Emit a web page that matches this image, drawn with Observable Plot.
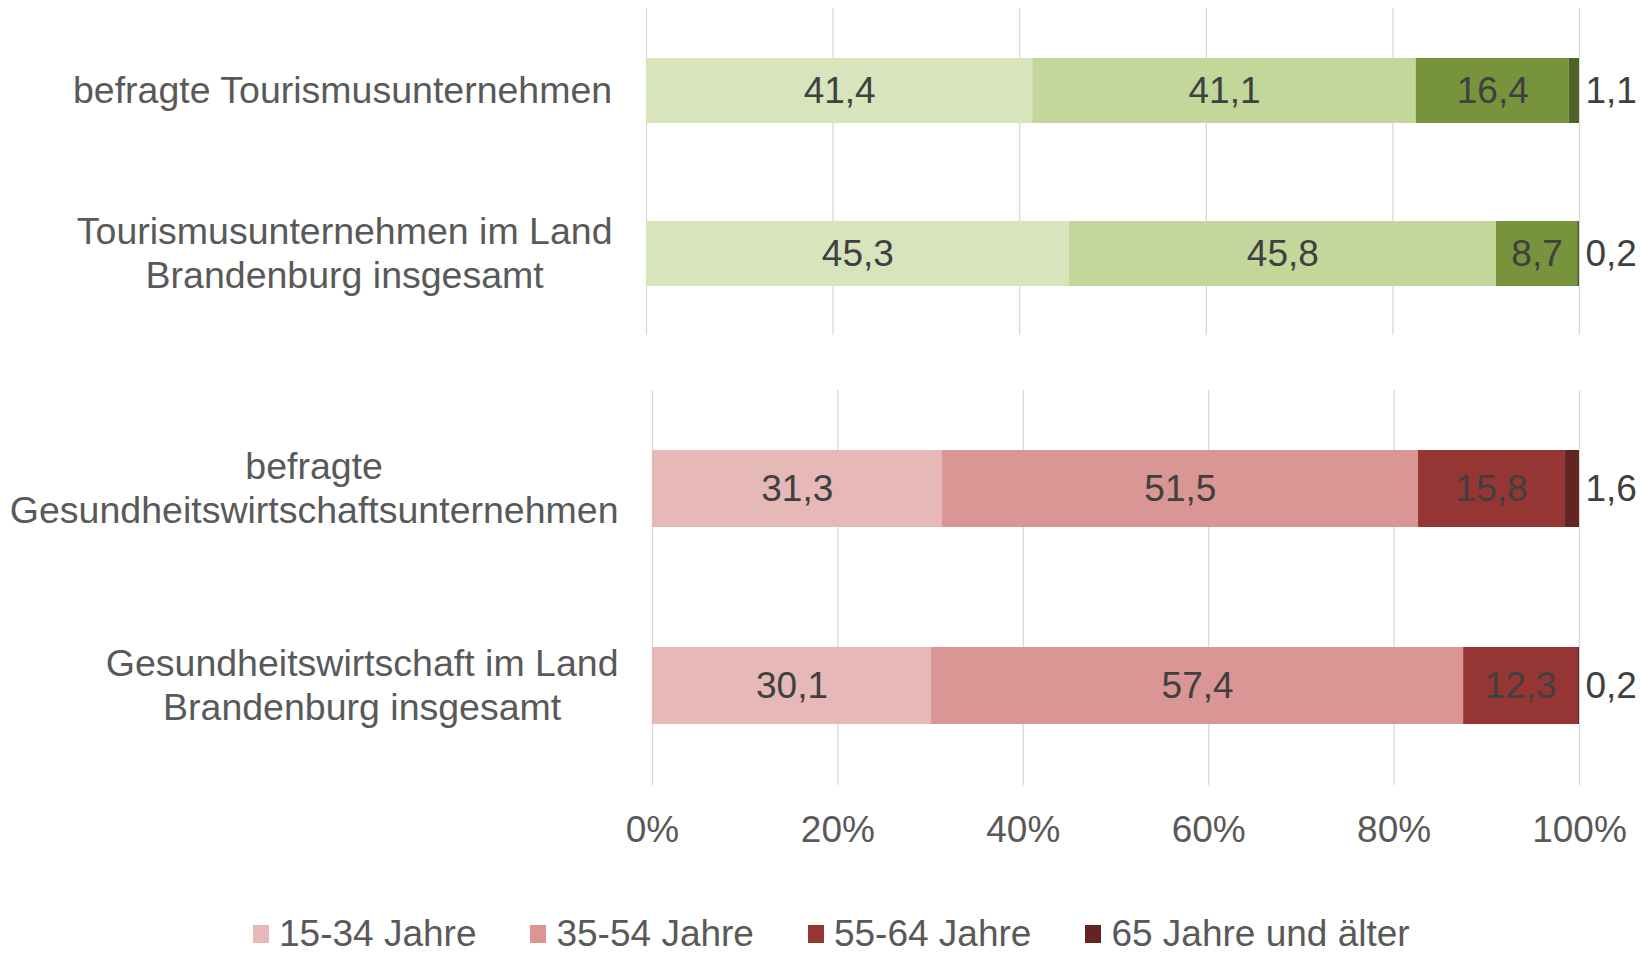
<!DOCTYPE html>
<html>
<head>
<meta charset="utf-8">
<script src="https://cdn.jsdelivr.net/npm/d3@7"></script>
<script src="https://cdn.jsdelivr.net/npm/@observablehq/plot@0.6"></script>
<style>
  body { margin: 0; background: #fff; font-family: "Liberation Sans", Arial, sans-serif; }
  #wrap { position: relative; width: 1651px; height: 953px; overflow: hidden; background: #fff; }
  #top { position: absolute; left: 0; top: 0; }
  #bottom { position: absolute; left: 0; top: 380px; }
  #legend { position: absolute; left: 253px; top: 915px; display: flex; gap: 54px; font-size: 37px; line-height: 37px; color: #595959; white-space: nowrap; }
  #legend .item { display: flex; align-items: center; gap: 10px; }
  #legend .sw { display: inline-block; width: 16px; height: 18px; }
</style>
</head>
<body>
<div id="wrap">
  <div id="top"></div>
  <div id="bottom"></div>
  <div id="legend"></div>
</div>
<script>
// ---- data ----
const ageGroups = ["15-34 Jahre", "35-54 Jahre", "55-64 Jahre", "65 Jahre und älter"];

const tourismCategories = ["befragte Tourismusunternehmen", "Tourismusunternehmen im Land\nBrandenburg insgesamt"];
const tourismValues = [
  [41.4, 41.1, 16.4, 1.1],
  [45.3, 45.8, 8.7, 0.2]
];

const healthCategories = ["befragte\nGesundheitswirtschaftsunternehmen", "Gesundheitswirtschaft im Land\nBrandenburg insgesamt"];
const healthValues = [
  [31.3, 51.5, 15.8, 1.6],
  [30.1, 57.4, 12.3, 0.2]
];

const greenColors = ["#d8e4bc", "#c4d79b", "#77933c", "#4f6228"];
const redColors = ["#e6b8b7", "#da9694", "#963634", "#632523"];

const tickValues = [0, 20, 40, 60, 80, 100];

// ---- helpers ----
const FONT = '"Liberation Sans", Arial, sans-serif';
const FS = 37;
const CAT_FS = 37.5;
const canvas = document.createElement("canvas");
const ctx = canvas.getContext("2d");
ctx.font = `${CAT_FS}px "Liberation Sans"`;
const measure = s => Math.max(...s.split("\n").map(l => ctx.measureText(l).width));
const fmt = v => v.toFixed(1).replace(".", ",");
const last = ageGroups[ageGroups.length - 1];

function panel({categories, values, colors, marginLeft, marginTop, marginBottom, height, paddingInner, paddingOuter, showAxis, labelGap}) {
  const rows = categories.flatMap((c, i) => ageGroups.map((s, j) => ({category: c, series: s, value: values[i][j]})));
  const ticks = tickValues.map(t => t / 100);
  const labelMarks = categories.map(c =>
    Plot.text([c], {
      y: d => d,
      text: d => d,
      frameAnchor: "left",
      textAnchor: "middle",
      lineAnchor: "middle",
      lineHeight: 1.17,
      dx: -(labelGap + measure(c) / 2),
      dy: -2,
      fill: "#595959",
      fontSize: CAT_FS
    })
  );
  const marks = [
    Plot.gridX({ticks, stroke: "#d9d9d9", strokeOpacity: 1, strokeWidth: 1.3}),
    Plot.barX(rows, Plot.stackX({offset: "normalize", x: "value", y: "category", fill: "series"})),
    Plot.text(rows, Plot.stackX({
      offset: "normalize", x: "value", y: "category",
      text: d => d.series === last ? "" : fmt(d.value),
      fill: "#404040", fontSize: FS
    })),
    Plot.text(rows, Plot.stackX2({
      offset: "normalize", x: "value", y: "category",
      text: d => d.series === last ? fmt(d.value) : "",
      textAnchor: "start", dx: 6,
      fill: "#404040", fontSize: FS
    })),
    ...labelMarks
  ];
  if (showAxis) {
    marks.push(Plot.axisX({
      ticks,
      tickFormat: d => Math.round(d * 100) + "%",
      tickSize: 0,
      tickPadding: 30,
      color: "#595959",
      fontSize: FS,
      label: null
    }));
  }
  return Plot.plot({
    width: 1651,
    height,
    marginLeft,
    marginRight: 72,
    marginTop,
    marginBottom,
    style: {fontFamily: FONT, fontSize: FS + "px", background: "transparent"},
    x: {domain: [0, 1], axis: showAxis ? undefined : null, label: null},
    y: {domain: categories, axis: null, paddingInner, paddingOuter, label: null},
    color: {domain: ageGroups, range: colors},
    marks
  });
}

document.getElementById("top").append(panel({
  categories: tourismCategories,
  values: tourismValues,
  colors: greenColors,
  marginLeft: 646,
  marginTop: 8,
  marginBottom: 10,
  height: 345,
  paddingInner: 0.6024,
  paddingOuter: 0.3012,
  showAxis: false,
  labelGap: 34
}));

document.getElementById("bottom").append(panel({
  categories: healthCategories,
  values: healthValues,
  colors: redColors,
  marginLeft: 652,
  marginTop: 10,
  marginBottom: 75,
  height: 480,
  paddingInner: 0.607,
  paddingOuter: 0.3035,
  showAxis: true,
  labelGap: 34
}));

// legend (HTML, below the SVG)
const legend = document.getElementById("legend");
ageGroups.forEach((g, i) => {
  const item = document.createElement("div");
  item.className = "item";
  const sw = document.createElement("span");
  sw.className = "sw";
  sw.style.background = redColors[i];
  const t = document.createElement("span");
  t.textContent = g;
  item.append(sw, t);
  legend.append(item);
});
</script>
</body>
</html>
